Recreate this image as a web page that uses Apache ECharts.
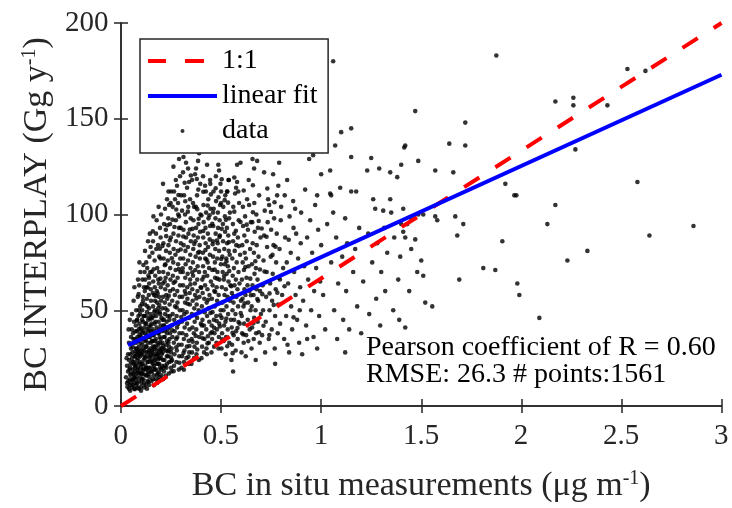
<!DOCTYPE html>
<html>
<head>
<meta charset="utf-8">
<script src="https://cdn.jsdelivr.net/npm/echarts@6/dist/echarts.min.js"></script>
<style>html,body{margin:0;padding:0;background:#fff}#c{width:732px;height:508px}</style>
</head>
<body>
<div id="c"></div>
<script>
// ---- data ----
const xTicks = [0, 0.5, 1, 1.5, 2, 2.5, 3];
const yTicks = [0, 50, 100, 150, 200];
const oneToOne = [[0, 0], [3, 200]];
const linearFit = [[0.035, 31.8], [3, 173]];
const statsText = ['Pearson coefficient of R = 0.60', 'RMSE: 26.3 # points:1561'];
const legendNames = ['1:1', 'linear fit', 'data'];

const pointsA = [[0.03,12],[0.035,18],[0.04,9],[0.04,24],[0.045,14],[0.03,21],[0.05,30],[0.045,11],[0.035,27],[0.05,17],[0.04,33],[0.025,15],[0.048,22],[0.038,40],[0.046,8],[0.032,10],[0.05,36],[0.042,19],[0.028,25],[0.044,45],[0.036,13],[0.05,12],[0.047,27]];
const pointsB = [[0.055,10],[0.06,14],[0.058,19],[0.062,23],[0.057,28],[0.065,33],[0.06,38],[0.066,9],[0.07,12],[0.068,16],[0.072,21],[0.07,26],[0.075,30],[0.071,35],[0.074,42],[0.078,11],[0.08,15],[0.082,19],[0.079,24],[0.083,28],[0.085,34],[0.08,39],[0.087,47],[0.09,13],[0.088,17],[0.092,22],[0.095,26],[0.09,31],[0.093,36],[0.097,41],[0.1,10],[0.098,15],[0.1,20],[0.099,29],[0.096,52],[0.084,57],[0.076,50],[0.065,44],[0.091,63],[0.097,70],[0.055,48],[0.063,55],[0.073,14],[0.086,25],[0.094,18],[0.058,31],[0.069,20],[0.081,45],[0.089,40],[0.077,33],[0.061,17],[0.095,48],[0.1,36],[0.085,66],[0.067,62],[0.092,75],[0.054,40],[0.078,27]];
const pointsC = [[0.102,12],[0.105,17],[0.108,22],[0.103,27],[0.107,32],[0.104,38],[0.11,44],[0.106,50],[0.109,57],[0.112,14],[0.115,19],[0.113,24],[0.117,29],[0.114,35],[0.118,41],[0.116,47],[0.12,53],[0.119,60],[0.121,66],[0.123,11],[0.125,16],[0.122,21],[0.127,26],[0.124,31],[0.128,37],[0.126,43],[0.13,49],[0.129,56],[0.131,72],[0.133,13],[0.135,18],[0.132,23],[0.137,28],[0.134,33],[0.138,39],[0.136,45],[0.14,51],[0.139,58],[0.141,64],[0.143,15],[0.145,20],[0.142,25],[0.147,30],[0.144,36],[0.148,42],[0.146,48],[0.15,55],[0.149,61],[0.12,81],[0.135,86],[0.142,78],[0.118,70],[0.127,62],[0.146,70],[0.111,39],[0.139,20],[0.124,47],[0.105,45],[0.149,27],[0.132,52],[0.115,62],[0.144,90],[0.107,66],[0.126,75],[0.148,83]];
const pointsD = [[0.152,13],[0.155,18],[0.153,23],[0.157,28],[0.154,34],[0.158,40],[0.156,46],[0.16,52],[0.159,59],[0.161,65],[0.163,16],[0.165,21],[0.162,26],[0.167,31],[0.164,37],[0.168,43],[0.166,49],[0.17,55],[0.169,62],[0.171,68],[0.173,14],[0.175,19],[0.172,24],[0.177,29],[0.174,35],[0.178,41],[0.176,47],[0.18,54],[0.179,60],[0.181,72],[0.183,17],[0.185,22],[0.182,27],[0.187,32],[0.184,38],[0.188,44],[0.186,51],[0.19,57],[0.189,64],[0.191,78],[0.193,15],[0.195,20],[0.192,25],[0.197,30],[0.194,36],[0.198,42],[0.196,48],[0.2,55],[0.199,62],[0.16,86],[0.162,99],[0.175,90],[0.185,84],[0.195,93],[0.168,76],[0.19,70],[0.157,80],[0.178,97],[0.188,104],[0.198,88],[0.172,39],[0.197,77],[0.165,58],[0.182,33],[0.154,70],[0.193,49],[0.158,22],[0.186,66],[0.176,82],[0.2,100]];
const pointsE = [[0.202,16],[0.205,21],[0.203,27],[0.207,33],[0.204,39],[0.208,45],[0.206,51],[0.21,57],[0.209,64],[0.211,70],[0.213,77],[0.212,85],[0.215,18],[0.217,24],[0.214,30],[0.218,36],[0.216,42],[0.22,48],[0.219,54],[0.221,61],[0.223,67],[0.222,74],[0.225,81],[0.224,92],[0.227,20],[0.229,26],[0.226,32],[0.23,38],[0.228,44],[0.232,50],[0.231,56],[0.233,63],[0.235,69],[0.234,76],[0.237,84],[0.236,98],[0.239,17],[0.241,23],[0.238,29],[0.242,35],[0.24,41],[0.244,47],[0.243,53],[0.245,60],[0.247,66],[0.246,72],[0.249,88],[0.248,106],[0.21,116],[0.237,112],[0.25,112],[0.24,105],[0.22,103],[0.215,95],[0.245,95],[0.23,108],[0.208,28],[0.226,58],[0.244,80],[0.218,65],[0.233,47],[0.205,40]];
const pointsF = [[0.252,18],[0.255,24],[0.253,30],[0.257,36],[0.254,42],[0.258,48],[0.256,55],[0.26,61],[0.259,68],[0.261,75],[0.263,82],[0.262,90],[0.265,21],[0.267,27],[0.264,33],[0.268,39],[0.266,45],[0.27,52],[0.269,58],[0.271,65],[0.273,71],[0.272,79],[0.275,86],[0.274,97],[0.277,23],[0.279,29],[0.276,35],[0.28,41],[0.278,47],[0.282,54],[0.281,60],[0.283,67],[0.285,74],[0.284,81],[0.287,89],[0.286,100],[0.289,19],[0.291,26],[0.288,32],[0.292,38],[0.29,44],[0.294,50],[0.293,57],[0.295,63],[0.297,70],[0.296,77],[0.299,85],[0.298,93],[0.29,99],[0.29,129],[0.27,108],[0.28,115],[0.265,112],[0.295,120],[0.258,104],[0.285,106],[0.274,118],[0.3,110],[0.262,125],[0.29,93]];
const pointsG = [[0.302,20],[0.305,26],[0.303,32],[0.307,38],[0.304,44],[0.308,50],[0.306,57],[0.31,63],[0.309,70],[0.311,77],[0.313,84],[0.312,92],[0.315,23],[0.317,29],[0.314,35],[0.318,41],[0.316,48],[0.32,54],[0.319,60],[0.321,67],[0.323,74],[0.322,81],[0.325,88],[0.324,96],[0.327,25],[0.329,31],[0.326,37],[0.33,43],[0.328,49],[0.332,56],[0.331,62],[0.333,69],[0.335,76],[0.334,83],[0.337,90],[0.336,104],[0.339,22],[0.341,28],[0.338,34],[0.342,40],[0.34,46],[0.344,53],[0.343,59],[0.345,66],[0.347,72],[0.346,79],[0.349,86],[0.348,98],[0.31,122],[0.325,127],[0.315,110],[0.33,114],[0.345,108],[0.305,102],[0.34,117],[0.32,100],[0.335,124],[0.312,130]];
const pointsH = [[0.352,22],[0.355,28],[0.353,35],[0.357,41],[0.354,48],[0.358,55],[0.356,61],[0.36,68],[0.359,75],[0.361,82],[0.363,89],[0.362,97],[0.365,25],[0.367,31],[0.364,38],[0.368,44],[0.366,51],[0.37,58],[0.369,64],[0.371,71],[0.373,78],[0.372,86],[0.375,93],[0.374,104],[0.377,27],[0.379,33],[0.376,40],[0.38,46],[0.378,53],[0.382,60],[0.381,66],[0.383,73],[0.385,80],[0.384,88],[0.387,95],[0.386,113],[0.389,24],[0.391,36],[0.388,50],[0.392,57],[0.39,70],[0.394,77],[0.393,84],[0.395,91],[0.397,100],[0.396,116],[0.399,43],[0.398,62],[0.36,106],[0.365,104],[0.375,124],[0.39,132],[0.38,110],[0.355,118],[0.37,121],[0.385,128]];
const pointsI = [[0.402,25],[0.405,31],[0.403,38],[0.407,45],[0.404,52],[0.408,59],[0.406,66],[0.41,73],[0.409,80],[0.411,88],[0.413,96],[0.412,105],[0.415,28],[0.417,35],[0.414,42],[0.418,49],[0.416,56],[0.42,63],[0.419,70],[0.421,77],[0.423,85],[0.422,93],[0.425,101],[0.424,112],[0.427,30],[0.429,27],[0.426,40],[0.43,47],[0.428,54],[0.432,61],[0.431,68],[0.433,75],[0.435,83],[0.434,90],[0.437,98],[0.436,108],[0.439,33],[0.441,44],[0.438,51],[0.442,58],[0.44,72],[0.444,79],[0.443,87],[0.445,94],[0.447,103],[0.446,116],[0.43,126],[0.445,118],[0.41,120],[0.42,115],[0.449,65],[0.448,38]];
const pointsJ = [[0.452,28],[0.455,35],[0.453,42],[0.457,49],[0.454,56],[0.458,63],[0.456,71],[0.46,78],[0.459,86],[0.461,94],[0.463,103],[0.462,112],[0.465,31],[0.467,38],[0.464,45],[0.468,52],[0.466,60],[0.47,67],[0.469,75],[0.471,82],[0.473,90],[0.472,98],[0.475,107],[0.474,120],[0.477,33],[0.479,40],[0.476,47],[0.48,55],[0.478,62],[0.482,70],[0.481,77],[0.483,85],[0.485,93],[0.484,101],[0.487,109],[0.486,126],[0.489,36],[0.491,43],[0.488,58],[0.492,66],[0.49,81],[0.494,89],[0.493,97],[0.495,105],[0.497,116],[0.499,74],[0.498,50],[0.49,123],[0.5,106],[0.46,101],[0.487,30],[0.5,112]];
const pointsK = [[0.502,30],[0.505,38],[0.503,46],[0.507,54],[0.504,62],[0.508,70],[0.506,78],[0.51,86],[0.509,95],[0.511,104],[0.513,34],[0.515,42],[0.512,50],[0.517,58],[0.514,66],[0.518,74],[0.516,82],[0.52,91],[0.519,99],[0.521,110],[0.523,27],[0.525,36],[0.522,44],[0.527,52],[0.524,61],[0.528,69],[0.526,77],[0.53,85],[0.529,93],[0.531,112],[0.533,40],[0.535,48],[0.532,57],[0.537,65],[0.534,73],[0.538,81],[0.536,89],[0.54,98],[0.539,118],[0.541,33],[0.545,55],[0.543,79],[0.547,63],[0.544,101],[0.549,45],[0.537,118],[0.53,112]];
const pointsL = [[0.552,24],[0.555,32],[0.553,41],[0.557,50],[0.554,59],[0.558,68],[0.556,77],[0.56,86],[0.559,95],[0.561,104],[0.56,18],[0.563,37],[0.565,45],[0.562,54],[0.567,63],[0.564,72],[0.568,81],[0.566,90],[0.57,111],[0.573,29],[0.575,39],[0.572,48],[0.577,57],[0.574,66],[0.578,75],[0.576,84],[0.58,117],[0.58,126],[0.583,35],[0.585,52],[0.582,61],[0.587,70],[0.584,88],[0.588,97],[0.586,112],[0.59,106],[0.593,43],[0.595,79],[0.592,64],[0.597,127],[0.599,55],[0.575,114]];
const pointsM = [[0.602,28],[0.605,38],[0.603,47],[0.607,56],[0.604,66],[0.608,75],[0.606,84],[0.61,94],[0.609,104],[0.613,33],[0.615,43],[0.612,52],[0.617,61],[0.614,71],[0.618,80],[0.616,89],[0.62,99],[0.623,26],[0.625,37],[0.622,58],[0.627,67],[0.624,77],[0.628,86],[0.63,108],[0.633,45],[0.635,54],[0.632,63],[0.637,73],[0.634,92],[0.638,118],[0.64,105],[0.643,40],[0.645,82],[0.642,60],[0.647,50],[0.649,96]];
const pointsN = [[0.652,30],[0.655,41],[0.653,52],[0.657,63],[0.654,74],[0.658,85],[0.656,96],[0.657,129],[0.665,124],[0.663,35],[0.665,46],[0.662,58],[0.667,69],[0.664,80],[0.668,91],[0.666,106],[0.673,24],[0.68,128],[0.675,38],[0.672,50],[0.677,61],[0.674,72],[0.678,84],[0.676,100],[0.683,44],[0.685,55],[0.682,66],[0.687,78],[0.684,93],[0.69,110],[0.693,33],[0.695,60],[0.697,88],[0.699,48]];
const pointsO = [[0.705,37],[0.71,50],[0.708,63],[0.712,76],[0.715,89],[0.715,122],[0.718,102],[0.72,28],[0.723,44],[0.725,57],[0.728,70],[0.73,83],[0.733,96],[0.735,108],[0.74,105],[0.738,35],[0.742,50],[0.745,64],[0.748,78],[0.75,92],[0.753,40],[0.755,55],[0.758,69],[0.76,121],[0.762,84],[0.765,98],[0.768,30],[0.77,47],[0.773,61],[0.775,75],[0.778,90],[0.78,110],[0.783,38],[0.785,53],[0.788,67],[0.79,127],[0.792,82],[0.795,43],[0.798,97],[0.8,104],[0.786,115],[0.77,22]];
const pointsP = [[0.805,58],[0.81,72],[0.815,35],[0.82,88],[0.825,47],[0.83,118],[0.832,32],[0.835,64],[0.84,28],[0.842,99],[0.848,80],[0.85,52],[0.855,40],[0.86,107],[0.865,70],[0.87,103],[0.872,58],[0.875,90],[0.88,45],[0.885,77],[0.89,33],[0.895,62],[0.9,101],[0.898,85],[0.862,93],[0.818,110],[0.828,75],[0.893,50]];
const pointsQ = [[0.905,27],[0.91,55],[0.915,73],[0.92,113],[0.925,42],[0.93,88],[0.935,66],[0.94,129],[0.945,97],[0.95,50],[0.955,80],[0.96,131],[0.962,36],[0.965,60],[0.97,105],[0.975,72],[0.98,30],[0.98,110],[0.985,92],[0.99,47],[0.995,65],[1.0,84],[0.93,35]];
const pointsR = [[1.0,121],[1.01,58],[1.02,40],[1.03,95],[1.045,123],[1.045,111],[1.05,110],[1.05,75],[1.06,180],[1.065,50],[1.07,136],[1.075,88],[1.08,35],[1.085,64],[1.095,114],[1.1,143],[1.105,78],[1.11,45],[1.12,98],[1.125,60],[1.13,85],[1.14,40],[1.15,145],[1.15,130],[1.15,112],[1.16,70],[1.175,112],[1.18,52],[1.19,93],[1.2,38],[1.06,101],[1.12,28],[1.17,82]];
const pointsS = [[1.21,65],[1.23,123],[1.235,90],[1.24,48],[1.25,129.5],[1.255,75],[1.26,108],[1.27,103],[1.275,56],[1.28,85],[1.29,124],[1.295,42],[1.3,70],[1.31,102],[1.315,93],[1.32,60],[1.33,80],[1.345,122],[1.345,108],[1.35,101],[1.36,50],[1.365,88],[1.38,119.5],[1.385,66],[1.39,45],[1.4,126],[1.4,95],[1.395,78]];
const pointsT = [[1.41,103],[1.415,135],[1.42,136],[1.47,154],[1.485,128],[1.485,100],[1.51,100],[1.57,123],[1.57,99],[1.58,97],[1.45,98],[1.43,95],[1.41,91],[1.42,88],[1.47,87],[1.45,82],[1.48,70],[1.51,68],[1.52,54],[1.555,52],[1.42,41],[1.44,60],[1.5,76]];
const pointsU = [[1.64,137],[1.72,136],[1.72,148],[1.66,122],[1.67,99],[1.71,95],[1.68,89],[1.69,66],[1.81,72],[1.87,71],[1.875,183],[1.905,86],[1.92,116],[1.965,110],[1.975,110],[1.98,64],[1.99,58],[2.09,46],[2.13,95],[2.17,105],[2.17,159],[2.23,76],[2.26,161],[2.26,157],[2.27,134],[2.33,81],[2.43,157],[2.53,176],[2.58,117],[2.62,175],[2.64,89],[2.86,94]];
const pointsCore = [[0.06,11],[0.065,15],[0.07,18],[0.075,22],[0.08,12],[0.085,20],[0.09,9],[0.095,23],[0.1,17],[0.105,14],[0.11,19],[0.115,12],[0.12,25],[0.125,20],[0.13,16],[0.135,23],[0.14,11],[0.145,26],[0.15,18],[0.155,29],[0.16,14],[0.165,24],[0.17,19],[0.175,31],[0.18,16],[0.185,27],[0.19,22],[0.195,33],[0.2,19],[0.205,30],[0.21,24],[0.215,36],[0.22,21],[0.225,29],[0.23,34],[0.235,26],[0.24,31],[0.245,38],[0.25,28],[0.068,26],[0.078,30],[0.088,29],[0.098,33],[0.108,28],[0.118,34],[0.128,31],[0.138,36],[0.148,33],[0.158,37],[0.168,34],[0.178,26],[0.188,38],[0.198,35],[0.062,35],[0.072,39],[0.082,36],[0.092,43],[0.102,40],[0.112,47],[0.122,43],[0.132,40],[0.142,46],[0.152,43],[0.162,47],[0.172,44],[0.182,49],[0.192,40],[0.202,46],[0.212,42],[0.222,51],[0.232,40],[0.242,45],[0.11,30],[0.14,29],[0.17,27],[0.2,25],[0.23,22],[0.13,9],[0.1,8],[0.18,12],[0.21,14],[0.25,20],[0.045,20],[0.055,25],[0.16,31],[0.19,29],[0.12,38],[0.15,39],[0.09,50],[0.14,67],[0.17,50],[0.11,55]];
const pointsCloud = [[0.057,13.5],[0.083,9.5],[0.114,16.5],[0.071,28.5],[0.137,12.5],[0.093,37.5],[0.162,19.5],[0.124,34.5],[0.186,24.5],[0.149,45.5],[0.211,31.5],[0.173,57.5],[0.233,28.5],[0.197,66.5],[0.256,39.5],[0.219,73.5],[0.278,51.5],[0.244,86.5],[0.301,46.5],[0.267,93.5],[0.323,58.5],[0.289,71.5],[0.347,63.5],[0.311,88.5],[0.369,47.5],[0.334,101.5],[0.391,80.5],[0.357,92.5],[0.413,67.5],[0.379,118.5],[0.436,55.5],[0.402,99.5],[0.458,84.5],[0.427,76.5],[0.481,66.5],[0.449,110.5],[0.503,92.5],[0.471,59.5],[0.527,75.5],[0.494,41.5],[0.551,62.5],[0.518,107.5],[0.574,91.5],[0.541,70.5],[0.598,48.5],[0.566,101.5],[0.621,72.5],[0.589,83.5],[0.646,66.5],[0.613,112.5],
[0.066,21.7],[0.097,27.3],[0.128,19.1],[0.158,33.8],[0.189,17.6],[0.219,39.2],[0.251,23.4],[0.281,35.9],[0.312,27.7],[0.342,31.3],[0.373,36.6],[0.404,42.1],[0.434,36.4],[0.465,40.8],[0.496,47.3],[0.526,45.7],[0.557,38.2],[0.587,43.9],[0.618,53.6],[0.649,57.8],
[0.079,44.6],[0.104,53.2],[0.133,61.9],[0.163,71.4],[0.194,82.1],[0.226,88.7],[0.257,97.3],[0.287,110.2],[0.318,116.6],[0.349,120.4],[0.381,102.8],[0.411,111.9],[0.442,99.6],[0.473,113.7],[0.503,118.4],[0.535,106.2],[0.566,119.3],[0.597,96.1],[0.628,94.7],[0.659,115.3],
[0.117,25.8],[0.141,41.3],[0.167,29.9],[0.191,52.7],[0.214,45.1],[0.239,57.6],[0.263,64.3],[0.286,42.8],[0.308,71.9],[0.333,53.4],[0.356,69.8],[0.377,56.2],[0.401,61.7],[0.422,81.4],[0.447,48.6],[0.468,71.2],[0.492,88.3],[0.515,67.9],[0.539,85.6],[0.561,57.3],
[0.088,58.4],[0.112,73.6],[0.137,68.1],[0.159,91.2],[0.183,58.9],[0.207,83.6],[0.231,94.4],[0.254,77.1],[0.276,102.6],[0.298,81.7],[0.321,106.9],[0.344,92.2],[0.366,84.6],[0.388,97.8],[0.411,91.4],[0.433,104.7],[0.456,95.1],[0.479,86.4],[0.501,76.8],[0.524,97.2],
[0.046,16.2],[0.058,22.9],[0.069,8.8],[0.081,17.4],[0.092,26.8],[0.103,21.6],[0.116,9.7],[0.127,27.9],[0.139,16.8],[0.151,23.7],[0.164,10.9],[0.176,22.1],[0.188,13.6],[0.199,28.3],[0.212,19.9],[0.224,15.8],[0.237,33.1],[0.249,25.4],[0.263,18.2],[0.276,30.7],
[0.292,22.6],[0.314,18.9],[0.337,25.7],[0.358,33.6],[0.381,29.5],[0.408,35.4],[0.432,32.7],[0.455,38.6],[0.478,44.4],[0.506,34.8],[0.531,31.2],[0.558,27.6],[0.582,40.7],[0.611,37.3],[0.636,33.9],[0.661,43.2],[0.689,38.5],[0.712,41.9],[0.741,37.1],[0.763,52.8],
[0.671,75.6],[0.694,71.3],[0.703,92.7],[0.727,88.4],[0.749,101.3],[0.772,83.2],[0.794,66.1],[0.817,62.5],[0.838,86.8],[0.862,46.3],[0.681,55.9],[0.706,58.4],[0.731,113.6],[0.757,78.9],[0.781,59.2],[0.659,101.2],[0.688,96.6],[0.717,70.2],[0.742,58.8],[0.767,106.4]];

const scatterData = [].concat(pointsA, pointsB, pointsC, pointsD, pointsE, pointsF, pointsG, pointsH, pointsI, pointsJ, pointsK, pointsL, pointsM, pointsN, pointsO, pointsP, pointsQ, pointsR, pointsS, pointsT, pointsU, pointsCore, pointsCloud);

// ---- chart ----
const SERIF = 'Liberation Serif';
const AX = '#262626';
const chart = echarts.init(document.getElementById('c'));

const baseAxisLine = {show: true, lineStyle: {color: AX, width: 1.5}};
const baseTick = {show: true, inside: true, length: 7, lineStyle: {color: AX, width: 1.5}};
const nameRich = {
  a: {fontFamily: SERIF, fontSize: 34, color: AX},
  s: {fontFamily: SERIF, fontSize: 20, color: AX, verticalAlign: 'top'}
};
// two-token rich text (same structure as the axis names)
const tickRich = {
  a: {fontFamily: SERIF, fontSize: 29, color: AX},
  s: {fontFamily: SERIF, fontSize: 2, color: AX, verticalAlign: 'top'}
};
const textRich = {
  a: {fontFamily: SERIF, fontSize: 28, color: '#000'},
  s: {fontFamily: SERIF, fontSize: 2, color: '#000', verticalAlign: 'top'}
};
const two = t => '{a|' + t + '}{s| }';

const option = {
  animation: false,
  backgroundColor: '#fff',
  grid: {left: 121, right: 10, top: 23, bottom: 99},
  xAxis: [{
    type: 'value', min: xTicks[0], max: xTicks[xTicks.length - 1], interval: 0.5,
    position: 'bottom',
    axisLine: baseAxisLine, axisTick: baseTick, splitLine: {show: false},
    axisLabel: {margin: 16, formatter: v => two(v), rich: tickRich},
    name: '{a|BC in situ measurements (μg m}{s|-1}{a|)}',
    nameLocation: 'middle', nameGap: 63,
    nameTextStyle: {rich: nameRich}
  }, {
    type: 'value', min: xTicks[0], max: xTicks[xTicks.length - 1], interval: 0.5,
    position: 'top',
    axisLine: baseAxisLine, axisTick: baseTick, splitLine: {show: false},
    axisLabel: {show: false}
  }],
  yAxis: [{
    type: 'value', min: yTicks[0], max: yTicks[yTicks.length - 1], interval: 50,
    position: 'left',
    axisLine: baseAxisLine, axisTick: baseTick, splitLine: {show: false},
    axisLabel: {margin: 12, formatter: v => two(v), rich: tickRich},
    name: '{a|BC INTERPLAY (Gg y}{s|-1}{a|)}',
    nameLocation: 'middle', nameGap: 60, nameRotate: 90,
    nameTextStyle: {rich: nameRich}
  }, {
    type: 'value', min: yTicks[0], max: yTicks[yTicks.length - 1], interval: 50,
    position: 'right',
    axisLine: baseAxisLine, axisTick: baseTick, splitLine: {show: false},
    axisLabel: {show: false}
  }],
  legend: {
    left: 140, top: 39, orient: 'vertical',
    selectedMode: false,
    backgroundColor: '#fff',
    borderColor: AX, borderWidth: 1.5,
    padding: [8, 10, 8, 8],
    itemWidth: 69, itemHeight: 4, itemGap: 7,
    formatter: name => two(name),
    textStyle: {rich: textRich},
    itemStyle: {borderWidth: 0},
    data: [
      {name: legendNames[0], icon: 'path://M0,0h18v4h-18zM37,0h19v4h-19zM69,4'},
      {name: legendNames[1], icon: 'rect'},
      {name: legendNames[2], icon: 'circle'}
    ]
  },
  graphic: [{
    type: 'text', left: 366, top: 334,
    style: {text: two(statsText[0]), rich: textRich}
  }, {
    type: 'text', left: 366, top: 361,
    style: {text: two(statsText[1]), rich: textRich}
  }],
  series: [{
    name: legendNames[2], type: 'scatter', data: scatterData,
    symbol: 'circle', symbolSize: 4.6, silent: true,
    itemStyle: {color: '#000'}, z: 2
  }, {
    name: legendNames[0], type: 'line', data: oneToOne,
    color: '#ff0000', showSymbol: false, symbol: 'none', silent: true,
    itemStyle: {color: '#ff0000'},
    lineStyle: {color: '#ff0000', width: 4, type: [18, 19]}, z: 3
  }, {
    name: legendNames[1], type: 'line', data: linearFit,
    color: '#0000ff', showSymbol: false, symbol: 'none', silent: true,
    itemStyle: {color: '#0000ff'},
    lineStyle: {color: '#0000ff', width: 4}, z: 4
  }]
};

chart.setOption(option);
</script>
</body>
</html>
